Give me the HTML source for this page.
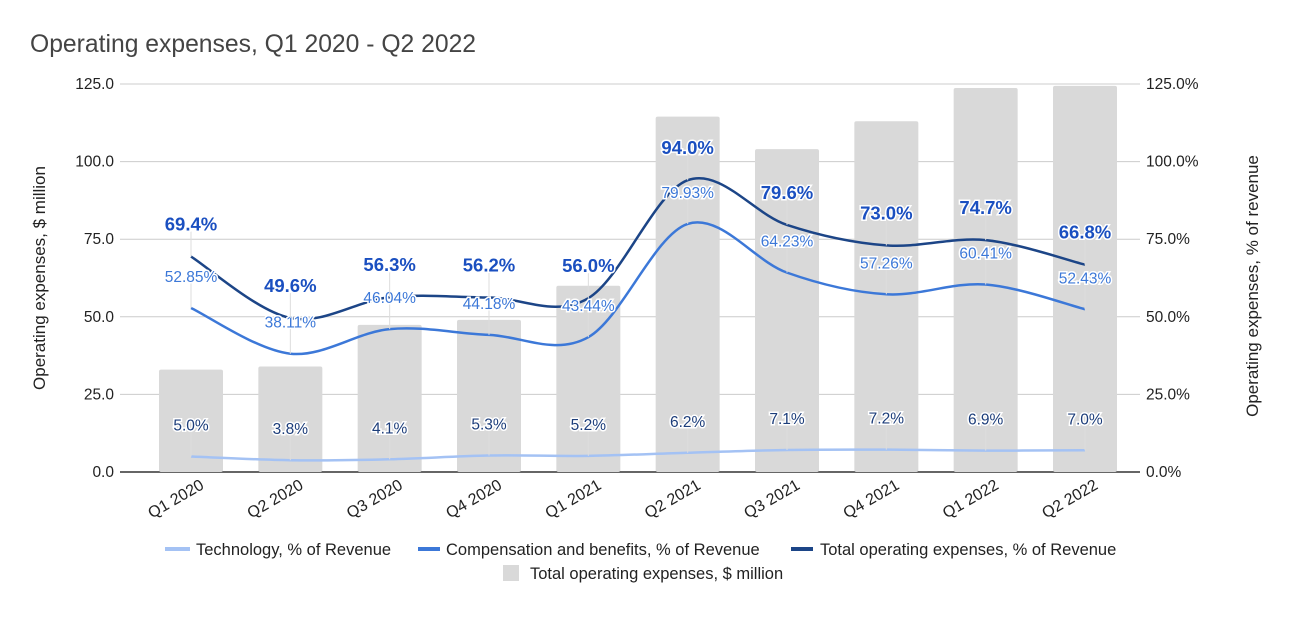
<!DOCTYPE html>
<html><head><meta charset="utf-8"><style>
body{margin:0;background:#fff;width:1292px;height:612px;overflow:hidden}
svg text{font-family:"Liberation Sans",sans-serif}
</style></head><body>
<svg id="c" width="1292" height="612">
<text x="30" y="52" font-size="24.7" fill="#444">Operating expenses, Q1 2020 - Q2 2022</text>
<g id="grid"></g><g id="bars"></g><g id="lines"></g><g id="labels"></g><g id="axes"></g>
<text transform="translate(45,278) rotate(-90)" text-anchor="middle" font-size="17" fill="#222">Operating expenses, $ million</text>
<text transform="translate(1258,286) rotate(-90)" text-anchor="middle" font-size="17" fill="#222">Operating expenses, % of revenue</text>
<g font-size="16.5" fill="#222">
<line x1="165" y1="549" x2="190" y2="549" stroke="#a4c2f4" stroke-width="4"/>
<text x="196" y="555">Technology, % of Revenue</text>
<line x1="418" y1="549" x2="440" y2="549" stroke="#3c78d8" stroke-width="4"/>
<text x="446" y="555">Compensation and benefits, % of Revenue</text>
<line x1="791" y1="549" x2="813" y2="549" stroke="#1c4587" stroke-width="4"/>
<text x="820" y="555">Total operating expenses, % of Revenue</text>
<rect x="503" y="565" width="16" height="16" fill="#d9d9d9"/>
<text x="530" y="579">Total operating expenses, $ million</text>
</g>
</svg>
<script>
const categories=["Q1 2020","Q2 2020","Q3 2020","Q4 2020","Q1 2021","Q2 2021","Q3 2021","Q4 2021","Q1 2022","Q2 2022"];
const totalMillion=[33,34,47.4,49,60,114.5,104,113,123.7,124.4];
const techPct=[5.0,3.8,4.1,5.3,5.2,6.2,7.1,7.2,6.9,7.0];
const compPct=[52.85,38.11,46.04,44.18,43.44,79.93,64.23,57.26,60.41,52.43];
const totalPct=[69.4,49.6,56.3,56.2,56.0,94.0,79.6,73.0,74.7,66.8];
const leftTicks=[0,25,50,75,100,125];
const rightTicks=[0,25,50,75,100,125];
const NS="http://www.w3.org/2000/svg";
const X0=120,X1=1140,Y0=472,Y1=84,MAX=125;
const FIRST=191,LAST=1085;
const step=(LAST-FIRST)/(categories.length-1);
const x=i=>FIRST+step*i;
const y=v=>Y0-(v/MAX)*(Y0-Y1);
function mk(tag,attrs,parent,txt){const e=document.createElementNS(NS,tag);for(const k in attrs)e.setAttribute(k,attrs[k]);if(txt!=null)e.textContent=txt;document.getElementById(parent).appendChild(e);return e;}
leftTicks.forEach((t,i)=>{
 const g=mk('line',{x1:X0,x2:X1,y1:y(t),y2:y(t),stroke:t===0?'#333':'#ccc','stroke-width':t===0?1.5:1},'grid');
 
 
 const l=mk('text',{x:X0-6,y:y(t)+5,'text-anchor':'end','font-size':15.5,fill:'#222'},'axes',t.toFixed(1));
 
 
});
rightTicks.forEach(t=>{
 const l=mk('text',{x:X1+6,y:y(t)+5,'font-size':15.5,fill:'#222'},'axes',t.toFixed(1)+'%');
 
 
});
categories.forEach((c,i)=>{
 const b=mk('rect',{x:x(i)-32,y:y(totalMillion[i]),width:64,height:Y0-y(totalMillion[i]),fill:'#d9d9d9',rx:2},'bars');
 
 
 const t=mk('text',{transform:`translate(${x(i)+14},${Y0+16}) rotate(-30)`,'text-anchor':'end','font-size':16,fill:'#222'},'axes',c);
 
 
});
function path(vals){
 const p=vals.map((v,i)=>[x(i),y(v)]);let d=`M${p[0][0]},${p[0][1]}`;
 for(let i=0;i<p.length-1;i++){const p0=p[i-1]||p[i],p1=p[i],p2=p[i+1],p3=p[i+2]||p2;
  d+=` C${p1[0]+(p2[0]-p0[0])/6},${p1[1]+(p2[1]-p0[1])/6} ${p2[0]-(p3[0]-p1[0])/6},${p2[1]-(p3[1]-p1[1])/6} ${p2[0]},${p2[1]}`;}
 return d;}
[[techPct,'#a4c2f4','technology-line'],[compPct,'#3c78d8','compensation-line'],[totalPct,'#1c4587','total-pct-line']].forEach(([v,c,n])=>{
 const l=mk('path',{d:path(v),fill:'none',stroke:c,'stroke-width':2.5},'lines');
 
 
});
function labels(vals,fmt,color,size,n,w){
 vals.forEach((v,i)=>{
  mk('line',{x1:x(i),x2:x(i),y1:y(v)-25,y2:y(v),stroke:'#ddd','stroke-width':1},'labels');
  const t=mk('text',{x:x(i),y:y(v)-26,'text-anchor':'middle','font-size':size,'font-weight':w,fill:color,stroke:'#fff','stroke-width':3,'paint-order':'stroke'},'labels',fmt(v));
  
  
 });}
labels(techPct,v=>v.toFixed(1)+'%','#1c3d7a',15.5,'technology-label','normal');
labels(compPct,v=>v.toFixed(2)+'%','#3c78d8',15.5,'compensation-label','normal');
labels(totalPct,v=>v.toFixed(1)+'%','#1a4fc0',18.5,'total-pct-label','bold');
</script>
</body></html>
